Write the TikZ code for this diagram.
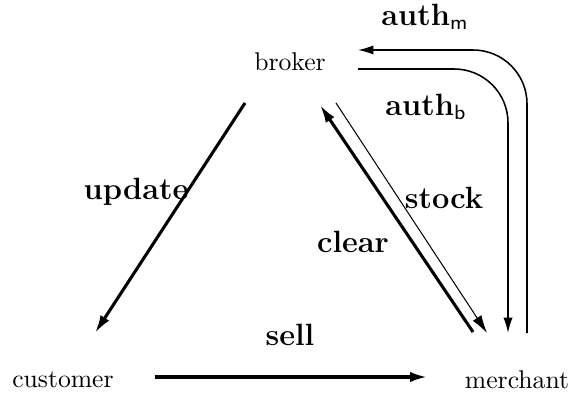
\documentclass[tikz,border=0pt]{standalone}
\usepackage{tikz}
\usetikzlibrary{arrows.meta,positioning,calc}

\begin{document}
\begin{tikzpicture}[
  x=0.39pt, y=-0.39pt,
  party/.style={inner sep=0pt, font=\normalsize},
  lbl/.style={inner sep=0pt, font=\large\bfseries},
  flowthick/.style={draw, line width=1.2pt, -{Latex[length=7pt,width=4pt]}},
  flowthin/.style={draw, line width=0.4pt, -{Latex[length=7pt,width=4pt]}},
  authline/.style={draw, line width=0.6pt, rounded corners=21pt, -{Latex[length=6pt,width=3.6pt]}}
  ]
\useasboundingbox (0,0) rectangle (574,397);

\node[party] (broker) at (290,62) {broker};
\node[party] (customer) at (63,380) {customer};
\node[party] (merchant) at (517,380) {merchant};

% broker -> customer
\draw[flowthick] ($(broker)+(-45,41)$) -- ($(customer)+(32,-47)$);
\node[lbl] (update) at (136,192) {update};

% customer -> merchant
\draw[flowthick, line width=1.5pt] ($(customer)+(92,-3)$) -- ($(merchant)+(-89,-3)$);
\node[lbl] (sell) at (290,335) {sell};

% merchant <-> broker
\draw[flowthick] ($(merchant)+(-44,-48)$) -- ($(broker)+(30,43)$);
\draw[flowthin] ($(broker)+(46,41)$) -- ($(merchant)+(-30,-47)$);
\node[lbl] (clear) at (353,242) {clear};
\node[lbl] (stock) at (444,198) {stock};

% authorisations
\draw[authline] ($(merchant)+(10,-47)$) |- ($(broker)+(68,-12)$);
\draw[authline] ($(broker)+(68,7)$) -| ($(merchant)+(-9,-47)$);
\node[lbl] (authm) at (425,17) {auth$_{\mathsf{m}}$};
\node[lbl] (authb) at (426,107) {auth$_{\mathsf{b}}$};

\end{tikzpicture}
\end{document}
